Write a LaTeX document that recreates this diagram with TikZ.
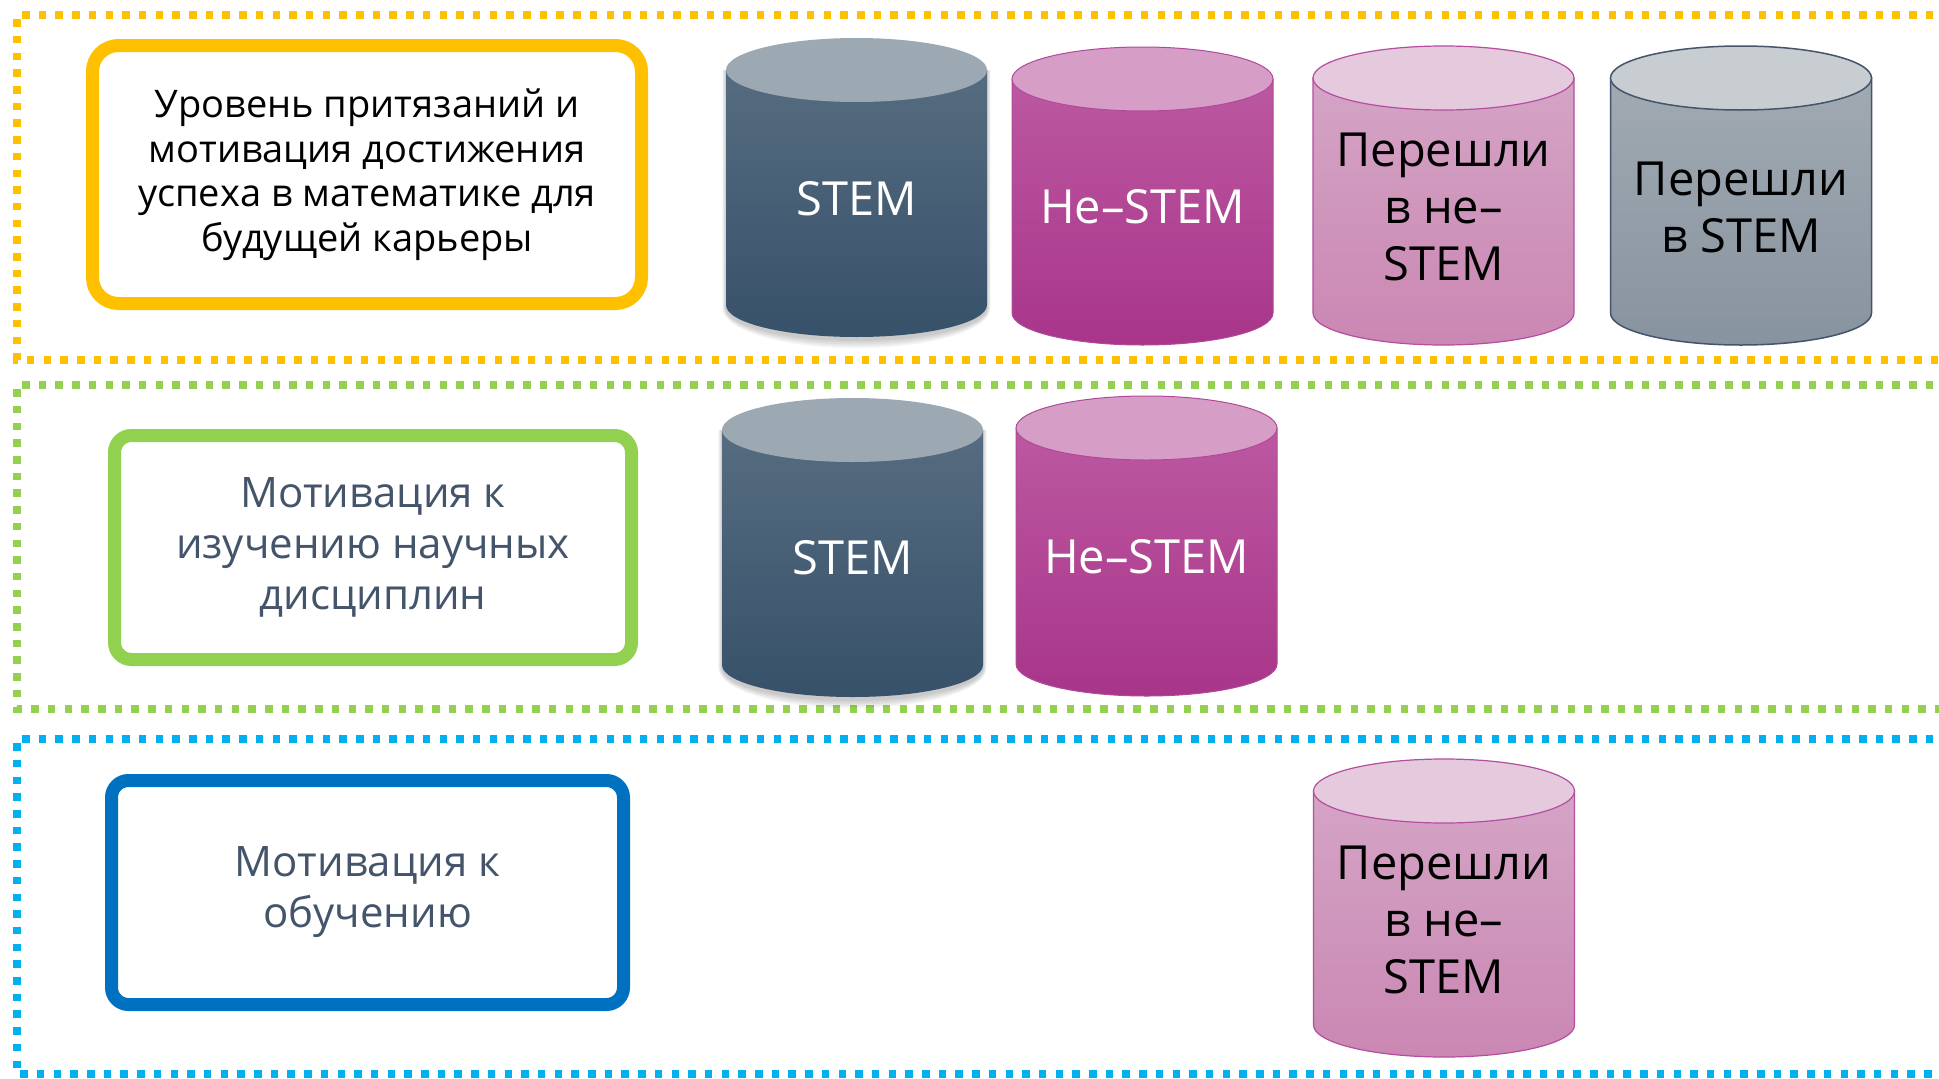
\documentclass[tikz,border=0pt]{standalone}
\usepackage{fontspec}
\setmainfont{Open Sans}
\definecolor{yel}{HTML}{FFC000}
\definecolor{grn}{HTML}{92D050}
\definecolor{sky}{HTML}{00B0F0}
\definecolor{blu}{HTML}{0070C0}
\definecolor{slate}{HTML}{44546A}
% STEM (dark slate)
\definecolor{stemTop}{HTML}{566C80}
\definecolor{stemBot}{HTML}{37516A}
\definecolor{stemCap}{HTML}{9DA9B2}
% non-STEM (magenta)
\definecolor{nsTop}{HTML}{BC58A1}
\definecolor{nsBot}{HTML}{A8358A}
\definecolor{nsCap}{HTML}{D69EC6}
\definecolor{nsLine}{HTML}{B04A98}
% moved to non-STEM (light pink)
\definecolor{mvTop}{HTML}{D4A4C5}
\definecolor{mvBot}{HTML}{CA87B3}
\definecolor{mvCap}{HTML}{E5C9DD}
\definecolor{mvLine}{HTML}{B54DA0}
% moved to STEM (grey)
\definecolor{gyTop}{HTML}{A1AAB3}
\definecolor{gyBot}{HTML}{87939E}
\definecolor{gyCap}{HTML}{C8CDD2}
% #1 centre x, #2 top centre y, #3 bottom centre y, #4 body top, #5 body bottom, #6 cap, #7 outline
\newcommand\tube[7]{%
  \path[top color=#4, bottom color=#5, #7]
    (#1-130.5,-#2) -- (#1-130.5,-#3)
    arc[start angle=180, end angle=360, x radius=130.5, y radius=32]
    -- (#1+130.5,-#2) -- cycle;
  \path[fill=#6, #7] (#1,-#2) ellipse[x radius=130.5, y radius=32];
}
% soft shadow under a tube
\newcommand\tubeshadow[3]{%
  \foreach \s in {1,3,5,7,9}{
    \fill[black, opacity=0.045]
      (#1-130.5-\s*0.4,-#2) -- (#1-130.5-\s*0.4,-#3-3)
      arc[start angle=180, end angle=360, x radius=130.5+\s*0.4, y radius=32+\s*0.9]
      -- (#1+130.5+\s*0.4,-#2) -- cycle;
  }
}
\begin{document}
\begin{tikzpicture}[x=1pt, y=1pt,
  frame/.style={line width=7.5pt, dash pattern=on 7.5pt off 9.2pt},
  box/.style={draw, line width=13pt, fill=white, align=center,
    inner sep=0pt, outer sep=0pt},
  smallbox/.style={box, font=\fontsize{38}{44.5}\selectfont},
  bigbox/.style={box, text=slate, font=\fontsize{42}{51}\selectfont},
  tubetext/.style={align=center, font=\fontsize{47}{57}\selectfont}]
\useasboundingbox (0,0) rectangle (1939,-1079);
\clip (0,0) rectangle (1939,-1079);
\fill[white] (0,0) rectangle (1939,-1079);

% dotted frames of the three rows
\draw[frame, yel] (1950,-15) -- (17,-15) -- (17,-360) -- (1950,-360);
\draw[frame, grn] (1950,-385) -- (17,-385) -- (17,-709) -- (1950,-709);
\draw[frame, sky] (1950,-739) -- (17,-739) -- (17,-1074) -- (1950,-1074);

% row labels
\node[smallbox, draw=yel, rounded corners=26pt,
  minimum width=549pt, minimum height=258pt] (aspir) at (367,-174.5)
  {Уровень притязаний и\\мотивация достижения\\успеха в математике для\\будущей карьеры};
\node[bigbox, draw=grn, rounded corners=17pt,
  minimum width=517pt, minimum height=224pt] (sci) at (373,-547.5)
  {Мотивация к\\изучению научных\\дисциплин};
\node[bigbox, draw=blu, rounded corners=17pt,
  minimum width=512pt, minimum height=224pt] (learn) at (367.5,-892.5)
  {Мотивация к\\обучению};

% row 1
\tubeshadow{856.5}{70}{305}
\tube{856.5}{70}{305}{stemTop}{stemBot}{stemCap}{draw=none}
\tube{1142.5}{79}{313}{nsTop}{nsBot}{nsCap}{draw=nsLine, line width=1pt}
\tube{1443.5}{78}{313}{mvTop}{mvBot}{mvCap}{draw=mvLine, line width=1.2pt}
\tube{1741}{78}{313}{gyTop}{gyBot}{gyCap}{draw=slate, line width=1.5pt}
\node[tubetext, text=white] (stemA) at (856.5,-199) {STEM};
\node[tubetext, text=white] (nonA) at (1142.5,-207) {Не–STEM};
\node[tubetext] (toNonA) at (1443.5,-207) {Перешли\\в не–\\STEM};
\node[tubetext] (toStemA) at (1741,-207) {Перешли\\в STEM};

% row 2
\tubeshadow{852.5}{430}{665}
\tube{852.5}{430}{665}{stemTop}{stemBot}{stemCap}{draw=none}
\tube{1146.5}{428}{664}{nsTop}{nsBot}{nsCap}{draw=nsLine, line width=1pt}
\node[tubetext, text=white] (stemB) at (852.5,-558) {STEM};
\node[tubetext, text=white] (nonB) at (1146.5,-557) {Не–STEM};

% row 3
\tube{1444}{791}{1025}{mvTop}{mvBot}{mvCap}{draw=mvLine, line width=1.2pt}
\node[tubetext] (toNonC) at (1444,-920) {Перешли\\в не–\\STEM};
\end{tikzpicture}
\end{document}
